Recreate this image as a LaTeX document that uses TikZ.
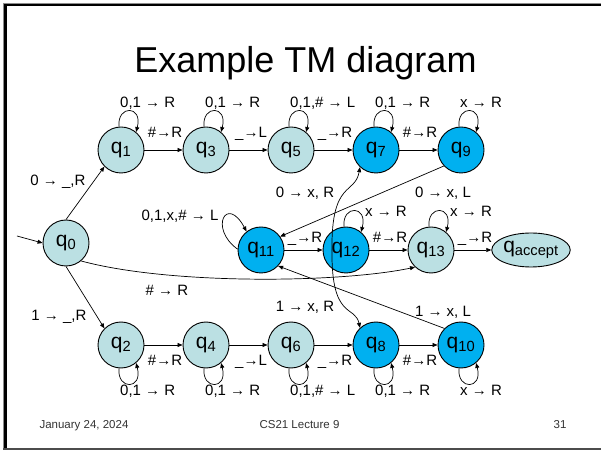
\documentclass[tikz,border=0pt]{standalone}
\usepackage{fontspec}
\setmainfont{Liberation Sans}
\usetikzlibrary{arrows.meta,shapes.geometric}
\definecolor{lightfill}{HTML}{BBE0E3}
\definecolor{darkfill}{HTML}{00B0F0}
\begin{document}
\begin{tikzpicture}[x=1pt,y=1pt,
  tmstate/.style={circle,draw=black,line width=0.9pt,minimum size=46pt,inner sep=0pt,font=\fontsize{21}{21}\selectfont},
  lightstate/.style={tmstate,fill=lightfill},
  darkstate/.style={tmstate,fill=darkfill},
  arrowline/.style={-{Triangle[length=5pt,width=4pt]},line width=0.7pt},
  edgelabel/.style={inner sep=0pt,font=\fontsize{15}{15}\selectfont,text height=10.7pt,text depth=0pt},
  footlabel/.style={inner sep=0pt,font=\fontsize{11.5}{11.5}\selectfont,text height=8.2pt,text depth=0pt,text=black!80},
]
\useasboundingbox (0,0) rectangle (601,452);
% frame
\draw[black!45,line width=1pt] (3,448.8) -- (601,448.8);
\draw[black!45,line width=1pt] (3.4,449) -- (3.4,2.5);
\draw[black,line width=2.5pt] (4,447) -- (601,447);
\draw[black,line width=2.5pt] (5.3,448) -- (5.3,2.5);
\draw[black!70,line width=2pt] (3,3.5) -- (601,3.5);
% title
\node[anchor=base,font=\fontsize{36}{36}\selectfont] (title) at (305.5,379) {Example TM diagram};
% states
\node[lightstate] (q0) at (66,209) {q\textsubscript{0}};
\node[lightstate] (q1) at (121,302) {q\textsubscript{1}};
\node[lightstate] (q3) at (206,302) {q\textsubscript{3}};
\node[lightstate] (q5) at (291,302) {q\textsubscript{5}};
\node[darkstate] (q7) at (376,302) {q\textsubscript{7}};
\node[darkstate] (q9) at (461,302) {q\textsubscript{9}};
\node[darkstate] (q11) at (261,202) {q\textsubscript{11}};
\node[darkstate] (q12) at (346,202) {q\textsubscript{12}};
\node[lightstate] (q13) at (431,202) {q\textsubscript{13}};
\node[ellipse,draw=black,line width=0.9pt,fill=lightfill,minimum width=76pt,minimum height=34pt,inner sep=0pt,font=\fontsize{21}{21}\selectfont] (qa) at (531,202) {q\textsubscript{accept}};
\node[lightstate] (q2) at (121,107) {q\textsubscript{2}};
\node[lightstate] (q4) at (206,107) {q\textsubscript{4}};
\node[lightstate] (q6) at (291,107) {q\textsubscript{6}};
\node[darkstate] (q8) at (376,107) {q\textsubscript{8}};
\node[darkstate] (q10) at (461,107) {q\textsubscript{10}};
% connectors
\coordinate (start) at (17,216);
\draw[arrowline] (start) -- (q0.west);
\draw[arrowline] (q0.north) -- (q1.225);
\draw[arrowline] (q0.south) -- (q2.135);
\draw[arrowline] (q0.-50) .. controls (170,167) and (340,169) .. (q13.227);
\foreach \a/\b in {q1/q3,q3/q5,q5/q7,q7/q9,q2/q4,q4/q6,q6/q8,q8/q10,q11/q12,q12/q13,q13/qa}
  \draw[arrowline] (\a) -- (\b);
\draw[arrowline] (q9.223) -- (q11.35);
\draw[arrowline] (q10.135) -- (q11.-43);
\coordinate (s12) at (332,202);
\draw[arrowline] (s12) .. controls (331,272) and (355,257) .. (q7.227);
\draw[arrowline] (s12) .. controls (331,132) and (355,147) .. (q8.133);
% loops
\foreach \n in {q1,q3,q5,q7,q9,q12,q13}
  \draw[arrowline] (\n.95) .. controls +(-2,22) and +(7,27) .. (\n.50);
\foreach \n in {q2,q4,q6,q8,q10}
  \draw[arrowline] (\n.265) .. controls +(-2,-22) and +(7,-27) .. (\n.310);
\draw[arrowline] (q11.178) .. controls +(-29,21) and +(-20,37) .. (q11.128);
% loop labels
\node[edgelabel,anchor=west] (l1) at (120,350) {0,1 → R};
\node[edgelabel,anchor=west] (l3) at (205,350) {0,1 → R};
\node[edgelabel,anchor=west] (l5) at (290,350) {0,1,\# → L};
\node[edgelabel,anchor=west] (l7) at (375,350) {0,1 → R};
\node[edgelabel,anchor=west] (l9) at (460,350) {x → R};
\node[edgelabel,anchor=west] (l2) at (120,62) {0,1 → R};
\node[edgelabel,anchor=west] (l4) at (205,62) {0,1 → R};
\node[edgelabel,anchor=west] (l6) at (290,62) {0,1,\# → L};
\node[edgelabel,anchor=west] (l8) at (375,62) {0,1 → R};
\node[edgelabel,anchor=west] (l10) at (460,62) {x → R};
\node[edgelabel] (l12) at (386,241) {x → R};
\node[edgelabel] (l13) at (471,241) {x → R};
\node[edgelabel] (l11) at (180,237) {0,1,x,\# → L};
% edge labels
\node[edgelabel] (e13) at (165,320) {\#→R};
\node[edgelabel] (e35) at (251,320) {\_→L};
\node[edgelabel] (e57) at (335,320) {\_→R};
\node[edgelabel] (e79) at (420,320) {\#→R};
\node[edgelabel] (e24) at (165,92) {\#→R};
\node[edgelabel] (e46) at (251,92) {\_→L};
\node[edgelabel] (e68) at (335,92) {\_→R};
\node[edgelabel] (e810) at (420,92) {\#→R};
\node[edgelabel] (e1112) at (305,215) {\_→R};
\node[edgelabel] (e1213) at (390,215) {\#→R};
\node[edgelabel] (e13a) at (475,215) {\_→R};
\node[edgelabel] (e01) at (58,272) {0 → \_,R};
\node[edgelabel] (e02) at (59,137) {1 → \_,R};
\node[edgelabel] (e013) at (167,162) {\# → R};
\node[edgelabel] (e911) at (443,260) {0 → x, L};
\node[edgelabel] (e1011) at (443,141) {1 → x, L};
\node[edgelabel] (e127) at (305,260) {0 → x, R};
\node[edgelabel] (e128) at (305,146) {1 → x, R};
% footer
\node[footlabel] (date) at (84,28) {January 24, 2024};
\node[footlabel] (lect) at (299.5,28) {CS21 Lecture 9};
\node[footlabel] (page) at (560,28) {31};
\end{tikzpicture}
\end{document}
